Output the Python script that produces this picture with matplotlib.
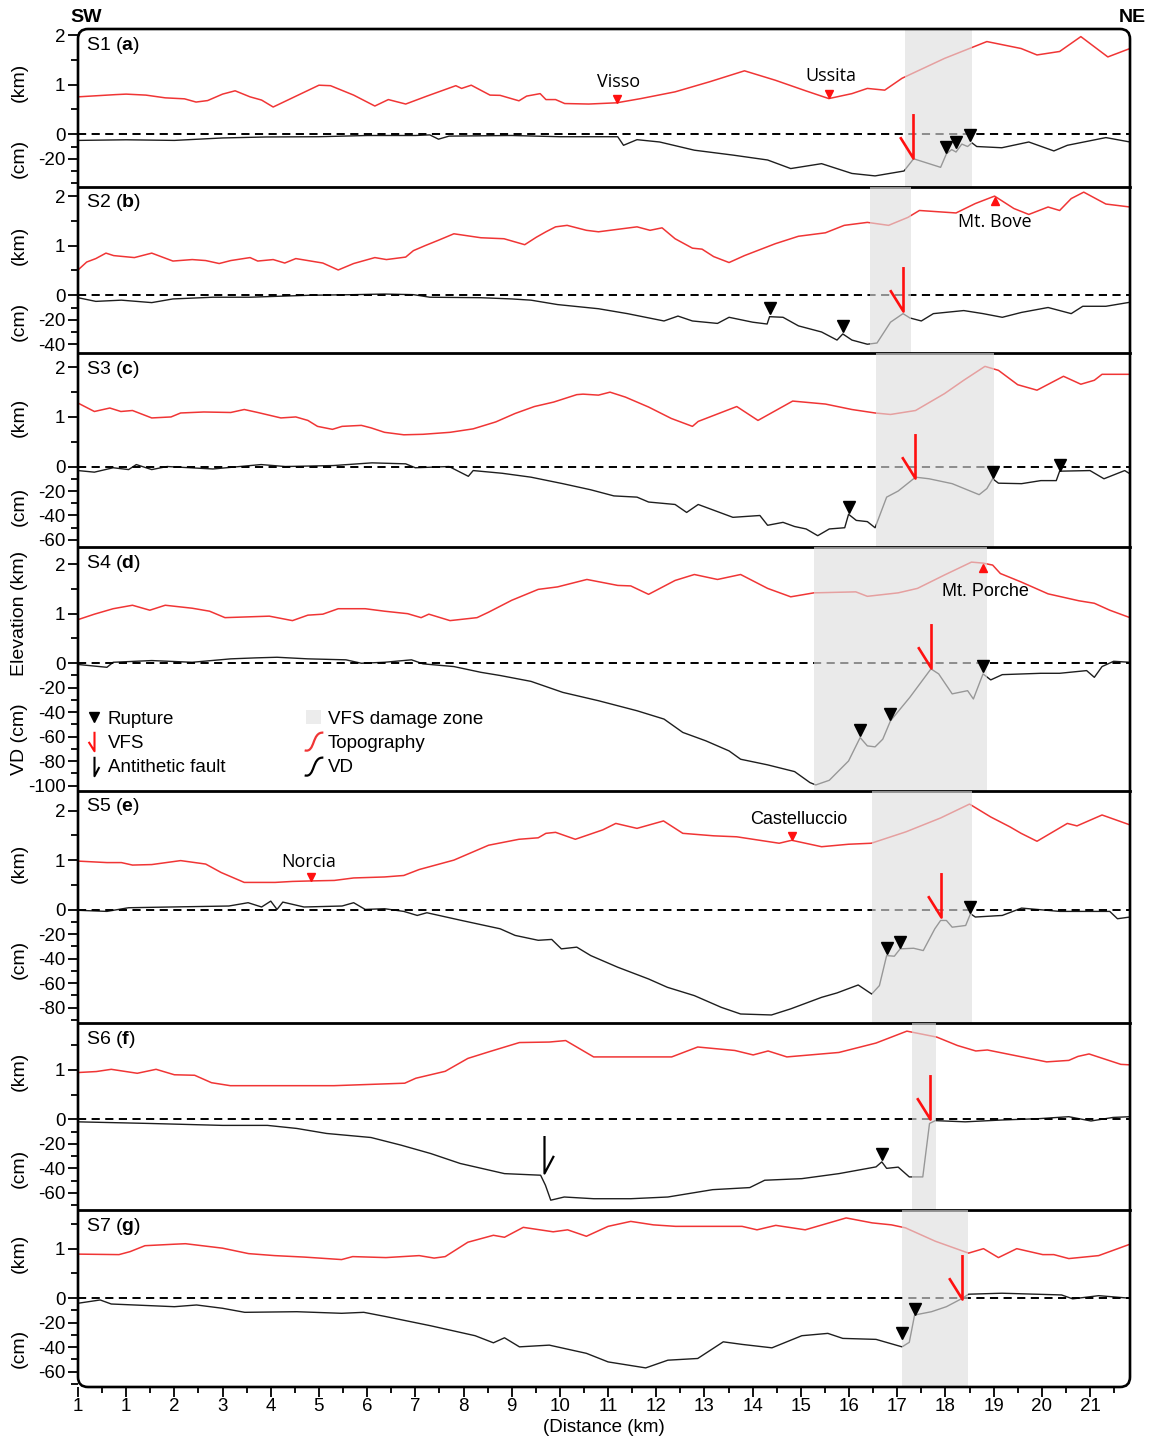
import numpy as np
import matplotlib.pyplot as plt
from matplotlib.path import Path
from matplotlib.patches import FancyBboxPatch, Patch
from matplotlib.lines import Line2D
from matplotlib.transforms import offset_copy, blended_transform_factory

plt.rcParams['font.family'] = ['Liberation Sans', 'DejaVu Sans']
plt.rcParams['mathtext.fontset'] = 'custom'
plt.rcParams['mathtext.rm'] = 'Liberation Sans'
plt.rcParams['mathtext.bf'] = 'Liberation Sans:bold'

# 1 km of topography is drawn as tall as 40.5 cm of vertical displacement
KM2CM = 40.5

dist_ticks = list(range(0, 22))
dist_labels = ['1'] + [str(i) for i in range(1, 22)]

# ---------------- S1 (a) ----------------
topo_x_a = [0.0, 0.78, 1.0, 1.41, 1.81, 2.21, 2.45, 2.69, 3.0, 3.26, 3.57, 3.81, 4.05, 5.0, 5.24, 5.72, 6.16, 6.44,
            6.8, 7.24, 7.84, 7.96, 8.16, 8.55, 8.76, 9.15, 9.31, 9.59, 9.71, 9.91, 10.1, 10.6, 11.18, 11.68, 12.39,
            13.11, 13.83, 14.47, 15.1, 15.58, 16.06, 16.38, 16.74, 17.1, 17.98, 18.86, 19.57, 19.9, 20.37, 20.81,
            21.37, 21.83]
topo_a = [0.755, 0.80, 0.81, 0.79, 0.735, 0.715, 0.65, 0.68, 0.81, 0.877, 0.755, 0.69, 0.55, 0.99, 0.98, 0.79, 0.57,
          0.70, 0.61, 0.77, 0.98, 0.925, 0.99, 0.79, 0.785, 0.675, 0.77, 0.82, 0.70, 0.70, 0.62, 0.61, 0.635, 0.72,
          0.856, 1.06, 1.28, 1.09, 0.877, 0.72, 0.82, 0.925, 0.89, 1.13, 1.53, 1.87, 1.73, 1.60, 1.67, 1.97, 1.56, 1.73]
vd_x_a = [0.0, 1.0, 2.0, 3.0, 3.9, 5.0, 6.0, 7.0, 7.3, 7.48, 7.7, 9.0, 10.0, 11.2, 11.32, 11.6, 12.07, 12.79, 13.59,
          14.31, 14.79, 15.43, 16.06, 16.54, 17.14, 17.34, 17.9, 18.02, 18.13, 18.22, 18.34, 18.46, 18.55, 18.65,
          19.17, 19.73, 20.25, 20.53, 21.33, 21.83]
vd_a = [-5, -4.5, -5, -3, -2.2, -2, -1, -1, -0.5, -4, -1.5, -1, -2, -2, -9, -4.4, -6.3, -13, -17, -21, -28, -24, -32,
        -34, -30, -20, -27, -16, -12.5, -14.5, -8, -10, -7, -10, -11, -6.3, -13.6, -9, -2.7, -6.3]
rup_x_a = [18.02, 18.22, 18.52]
rup_y_a = [-15, -10.5, -5]

# ---------------- S2 (b) ----------------
topo_x_b = [0.0, 0.18, 0.37, 0.58, 0.74, 1.17, 1.53, 1.97, 2.37, 2.65, 2.93, 3.17, 3.57, 3.73, 4.05, 4.29, 4.52, 5.08,
            5.4, 5.72, 6.16, 6.4, 6.8, 6.96, 7.2, 7.48, 7.8, 8.36, 8.84, 9.27, 9.51, 9.71, 9.91, 10.15, 10.55, 10.8,
            11.6, 11.87, 12.12, 12.39, 12.75, 12.95, 13.19, 13.51, 13.83, 14.47, 14.95, 15.51, 15.9, 16.38, 16.82,
            17.22, 17.46, 18.22, 18.62, 19.02, 19.42, 19.73, 20.13, 20.37, 20.61, 20.87, 21.33, 21.83]
topo_b = [0.51, 0.67, 0.74, 0.85, 0.80, 0.76, 0.85, 0.69, 0.72, 0.70, 0.64, 0.70, 0.76, 0.69, 0.72, 0.65, 0.74, 0.65,
          0.51, 0.64, 0.76, 0.72, 0.77, 0.90, 1.0, 1.11, 1.24, 1.16, 1.14, 1.02, 1.17, 1.28, 1.38, 1.41, 1.31, 1.28,
          1.38, 1.31, 1.36, 1.14, 0.95, 0.93, 0.78, 0.66, 0.80, 1.04, 1.19, 1.26, 1.41, 1.47, 1.41, 1.57, 1.71, 1.66,
          1.85, 2.0, 1.75, 1.63, 1.78, 1.71, 1.95, 2.08, 1.84, 1.78]
vd_x_b = [0.0, 0.37, 0.9, 1.53, 1.97, 2.8, 3.57, 4.8, 5.72, 6.36, 6.96, 7.3, 8.36, 9.0, 9.4, 9.95, 10.8, 11.4, 12.16,
          12.45, 12.75, 13.27, 13.51, 14.0, 14.3, 14.35, 14.63, 14.95, 15.43, 15.75, 15.87, 16.06, 16.38, 16.58,
          16.86, 17.12, 17.26, 17.5, 17.75, 18.38, 18.78, 19.18, 19.58, 20.13, 20.61, 20.85, 21.33, 21.83]
vd_b = [-2, -5, -4, -6, -3, -1.6, -1.6, 0, 0.5, 1, 0.5, -1.6, -2, -3, -4, -7.6, -11, -15, -21, -17, -21, -23, -18,
        -22, -23.5, -17.5, -18, -25, -30, -36.6, -31.6, -36.6, -40, -39, -22, -15, -18.5, -21, -15, -12.5, -15, -18,
        -14, -10, -15, -9, -9, -5.7]
rup_x_b = [14.35, 15.87]
rup_y_b = [-15, -30]

# ---------------- S3 (c) ----------------
topo_x_c = [0.0, 0.34, 0.66, 0.89, 1.13, 1.53, 1.93, 2.13, 2.61, 3.17, 3.45, 3.73, 4.21, 4.52, 4.77, 4.97, 5.28, 5.48,
            5.88, 6.08, 6.36, 6.76, 7.16, 7.72, 8.2, 8.67, 9.07, 9.47, 9.87, 10.35, 10.48, 10.8, 11.04, 11.36, 11.84,
            12.31, 12.75, 12.87, 13.67, 14.11, 14.83, 15.51, 16.06, 16.54, 16.86, 17.38, 17.98, 18.38, 18.82, 19.1,
            19.5, 19.9, 20.45, 20.81, 21.09, 21.25, 21.83]
topo_c = [1.28, 1.11, 1.18, 1.11, 1.13, 0.98, 1.0, 1.08, 1.1, 1.09, 1.15, 1.09, 0.98, 1.0, 0.93, 0.81, 0.75, 0.81,
          0.83, 0.78, 0.69, 0.64, 0.65, 0.69, 0.76, 0.90, 1.07, 1.21, 1.30, 1.45, 1.46, 1.44, 1.50, 1.40, 1.20, 0.97,
          0.81, 0.91, 1.21, 0.93, 1.32, 1.26, 1.15, 1.08, 1.05, 1.13, 1.47, 1.74, 2.02, 1.94, 1.65, 1.54, 1.82, 1.66,
          1.74, 1.86, 1.86]
vd_x_c = [0.0, 0.34, 0.73, 1.05, 1.21, 1.53, 1.85, 2.8, 3.8, 4.3, 5.3, 6.1, 6.8, 7.0, 7.7, 8.1, 8.2, 8.8, 9.4, 10.06,
          10.64, 11.12, 11.6, 11.84, 12.39, 12.63, 12.87, 13.59, 14.15, 14.31, 14.63, 14.87, 15.11, 15.35, 15.59,
          15.91, 15.99, 16.15, 16.38, 16.54, 16.78, 17.02, 17.38, 17.66, 18.14, 18.7, 18.86, 18.98, 19.1, 19.58,
          19.98, 20.3, 20.37, 21.0, 21.29, 21.72, 21.83]
vd_c = [-3.3, -4.6, -1, -2.5, 1.6, -2.5, 0, -2, 1.6, 0, 0.8, 3, 2.2, -1, 0, -8, -3.3, -5.5, -8.7, -14, -19, -24, -25,
        -29, -31, -37.5, -31, -41.5, -40, -48, -45.6, -49, -51, -56.5, -51, -50, -39, -44, -45, -50, -25, -20, -8.7,
        -10, -14, -23, -18, -10, -13.6, -14, -11.5, -11.5, -3.8, -3.3, -10, -3.3, -6]
rup_x_c = [15.99, 18.98, 20.37]
rup_y_c = [-38, -9, -3]

# ---------------- S4 (d) ----------------
topo_x_d = [0.0, 0.34, 0.73, 1.13, 1.49, 1.81, 2.37, 2.73, 3.05, 3.97, 4.45, 4.77, 5.08, 5.4, 5.96, 6.36, 6.84, 7.12,
            7.28, 7.72, 8.28, 8.52, 9.0, 9.55, 9.95, 10.56, 11.2, 11.47, 11.84, 12.39, 12.79, 13.27, 13.75, 14.31,
            14.79, 15.27, 16.14, 16.38, 17.02, 17.42, 17.98, 18.54, 18.78, 18.98, 19.14, 19.57, 20.13, 20.77, 21.09,
            21.41, 21.83]
topo_d = [0.88, 0.99, 1.10, 1.17, 1.07, 1.17, 1.11, 1.05, 0.92, 0.95, 0.86, 0.97, 0.99, 1.10, 1.10, 1.05, 1.0, 0.92,
          0.99, 0.86, 0.92, 1.03, 1.27, 1.49, 1.54, 1.69, 1.57, 1.56, 1.39, 1.67, 1.79, 1.69, 1.79, 1.51, 1.34, 1.42,
          1.44, 1.35, 1.42, 1.51, 1.78, 2.04, 2.02, 1.98, 1.81, 1.64, 1.40, 1.26, 1.21, 1.07, 0.92]
vd_x_d = [0.0, 0.6, 0.73, 1.53, 2.37, 3.17, 3.69, 4.13, 4.77, 5.56, 5.88, 6.36, 6.92, 7.16, 7.8, 8.36, 8.76, 9.4,
          10.06, 10.8, 11.6, 12.16, 12.55, 13.03, 13.51, 13.75, 14.31, 14.87, 15.19, 15.31, 15.59, 15.99, 16.23,
          16.38, 16.54, 16.7, 16.86, 17.26, 17.7, 17.86, 18.14, 18.46, 18.58, 18.78, 18.94, 19.18, 19.98, 20.37,
          20.93, 21.09, 21.25, 21.49, 21.83]
vd_d = [-1, -3.3, 0.8, 2.2, 0.8, 3.6, 4.4, 4.9, 3.6, 2.8, 0, 0.8, 2.8, -0.5, -2.7, -7.4, -10, -14.8, -23.8, -30.6,
        -38.8, -45.6, -56.5, -63.4, -71.6, -78.4, -83, -88.5, -97.5, -99.4, -95.6, -79.8, -60.7, -67.5, -68.3, -62,
        -47, -27.9, -4.6, -8.7, -25, -22.4, -29.2, -8.7, -13.6, -9.3, -8.2, -8.2, -6, -11.5, -2.7, 1.6, 0.8]
rup_x_d = [16.23, 16.86, 18.78]
rup_y_d = [-59, -46, -6.5]

# ---------------- S5 (e) ----------------
topo_x_e = [0.0, 0.6, 0.9, 1.13, 1.53, 2.13, 2.65, 2.97, 3.45, 4.09, 4.45, 4.83, 5.32, 5.72, 6.36, 6.76, 7.08, 7.8,
            8.52, 9.15, 9.55, 9.71, 9.91, 10.32, 10.89, 11.16, 11.6, 12.15, 12.55, 13.19, 13.67, 14.55, 14.81, 15.43,
            15.99, 16.46, 17.18, 17.9, 18.5, 18.94, 19.34, 19.57, 19.9, 20.53, 20.73, 21.25, 21.83]
topo_e = [0.98, 0.95, 0.95, 0.90, 0.91, 0.99, 0.92, 0.75, 0.55, 0.55, 0.57, 0.58, 0.59, 0.64, 0.66, 0.69, 0.81, 1.0,
          1.30, 1.42, 1.45, 1.54, 1.56, 1.42, 1.61, 1.74, 1.64, 1.79, 1.54, 1.49, 1.47, 1.34, 1.40, 1.27, 1.32, 1.34,
          1.57, 1.85, 2.13, 1.87, 1.67, 1.54, 1.38, 1.74, 1.69, 1.91, 1.71]
vd_x_e = [0.0, 0.6, 1.05, 1.93, 3.13, 3.53, 3.81, 4.0, 4.13, 4.25, 4.69, 5.48, 5.72, 5.96, 6.36, 6.76, 7.04, 7.24,
          7.96, 8.76, 9.07, 9.55, 9.83, 10.03, 10.35, 10.64, 11.2, 11.84, 12.23, 12.79, 13.35, 13.75, 14.39, 14.79,
          15.43, 15.75, 16.19, 16.47, 16.63, 16.78, 16.94, 17.06, 17.34, 17.54, 17.78, 17.9, 18.02, 18.14, 18.42,
          18.52, 18.62, 19.18, 19.58, 20.37, 21.41, 21.57, 21.83]
vd_e = [-0.5, -1.4, 1.6, 2.2, 3, 5.7, 2.2, 7, 0.2, 6.2, 2.2, 3, 5.7, 0.2, 0.8, -1.4, -4.7, -2.5, -8.8, -15.6, -21,
        -25, -24.3, -32, -30.6, -37.5, -47, -56.6, -63.4, -70.2, -79.8, -85.2, -86, -81, -71.6, -68, -61.5, -68.9,
        -62, -37.5, -38, -32, -31.5, -33.4, -15.6, -8.8, -8.8, -14.3, -12.9, -3.3, -6, -4.7, 1.3, -1.4, -1.4, -7.4, -6]
rup_x_e = [16.78, 17.06, 18.52]
rup_y_e = [-36, -31, -2.5]

# ---------------- S6 (f) ----------------
topo_x_f = [0.0, 0.38, 0.69, 1.23, 1.62, 2.0, 2.42, 2.77, 3.16, 4.54, 5.31, 6.78, 7.01, 7.62, 8.09, 8.55, 9.16, 9.78,
            10.12, 10.7, 12.32, 12.86, 13.63, 14.01, 14.32, 14.71, 15.79, 16.56, 17.2, 17.82, 18.25, 18.63, 18.87,
            20.1, 20.56, 20.75, 20.98, 21.64, 21.83]
topo_f = [0.945, 0.965, 1.01, 0.93, 1.01, 0.90, 0.89, 0.74, 0.68, 0.68, 0.68, 0.73, 0.83, 0.97, 1.23, 1.37, 1.55,
          1.56, 1.59, 1.26, 1.26, 1.46, 1.39, 1.30, 1.38, 1.26, 1.35, 1.54, 1.78, 1.66, 1.49, 1.38, 1.40, 1.16, 1.19,
          1.27, 1.32, 1.11, 1.10]
vd_x_f = [0.0, 1.46, 3.0, 3.93, 4.54, 5.16, 6.08, 6.7, 7.32, 7.93, 8.85, 9.6, 9.7, 9.81, 10.09, 10.7, 11.47, 12.24,
          13.17, 13.94, 14.25, 15.02, 15.79, 16.56, 16.68, 16.78, 17.02, 17.25, 17.53, 17.67, 17.79, 18.41, 19.17,
          19.94, 20.56, 21.02, 21.48, 21.83]
vd_f = [-2, -3.3, -4.9, -4.9, -7.4, -11.5, -14.8, -21, -27.9, -36, -44.3, -45.6, -53.8, -66, -63.4, -64.8, -64.8,
        -63.4, -57.4, -55.7, -49.7, -48.4, -44.3, -38.8, -34.7, -40, -39, -47, -47, -3.3, -1, -2, -0.5, 0.6, 2.2,
        -1.3, 1.6, 2.2]
rup_x_f = [16.68]
rup_y_f = [-33]

# ---------------- S7 (g) ----------------
topo_x_g = [0.0, 0.85, 1.08, 1.39, 2.0, 2.23, 3.0, 3.54, 4.08, 4.7, 5.47, 5.7, 6.39, 7.08, 7.39, 7.62, 8.09, 8.62,
            8.85, 9.24, 9.86, 10.16, 10.55, 11.0, 11.47, 11.94, 12.4, 13.78, 14.09, 14.48, 15.09, 15.94, 16.48, 16.88,
            17.17, 17.79, 18.48, 18.79, 19.1, 19.48, 20.02, 20.25, 20.56, 21.18, 21.83]
topo_g = [0.89, 0.88, 0.94, 1.06, 1.09, 1.10, 1.01, 0.90, 0.86, 0.83, 0.78, 0.84, 0.82, 0.86, 0.81, 0.84, 1.13, 1.27,
          1.23, 1.43, 1.34, 1.38, 1.25, 1.45, 1.55, 1.48, 1.45, 1.45, 1.38, 1.47, 1.38, 1.62, 1.52, 1.48, 1.42, 1.15,
          0.91, 1.0, 0.82, 1.0, 0.88, 0.88, 0.80, 0.86, 1.09]
vd_x_g = [0.0, 0.46, 0.69, 2.0, 2.46, 3.0, 3.46, 4.54, 5.47, 5.93, 6.39, 7.32, 8.24, 8.62, 8.85, 9.16, 9.78, 10.55,
          11.0, 11.78, 12.24, 12.86, 13.39, 13.78, 14.4, 15.02, 15.56, 15.87, 16.56, 17.1, 17.25, 17.36, 17.71, 18.02,
          18.33, 18.48, 19.17, 20.41, 20.64, 21.18, 21.83]
vd_g = [-4.1, -1.4, -4.7, -6.9, -5.5, -8.2, -11.5, -11, -12.3, -11.5, -15, -22.5, -30.6, -36.4, -32.3, -39.7, -38.3,
        -45, -52, -56.9, -50.6, -49.2, -35.6, -37.7, -40.5, -30.6, -28.7, -32.8, -33.6, -39.7, -36, -13.7, -11, -6.9,
        -0.5, 3.3, 4.1, 2.7, -0.5, 2.1, 0]
rup_x_g = [17.1, 17.36]
rup_y_g = [-33, -13]

# VFS damage zones (km) and main VFS rupture (km, cm)
zones = [(17.16, 18.55), (16.43, 17.28), (16.56, 19.0), (15.28, 18.86), (16.47, 18.56), (17.30, 17.80), (17.10, 18.47)]
vfs_x = [17.32, 17.12, 17.37, 17.70, 17.90, 17.68, 18.34]
vfs_y = [-19, -13, -9, -4, -6, 0, -1]
anti_x = [9.66]   # antithetic fault, S6
anti_y = [-44]

# y ticks: km part, cm part
km_ticks = [[0, 1, 2]] * 5 + [[0, 1]] * 2
cm_ticks = [[-20], [-20, -40], [-20, -40, -60], [-20, -40, -60, -80, -100], [-20, -40, -60, -80],
            [-20, -40, -60], [-20, -40, -60]]
ylims = [(-43, 86), (-47.5, 88.5), (-66.1, 92.4), (-104.3, 94.6), (-92.6, 97), (-74.3, 78.7), (-72.5, 71.8)]
km_label = ['(km)'] * 3 + ['Elevation (km)'] + ['(km)'] * 3
cm_label = ['(cm)'] * 3 + ['VD (cm)'] + ['(cm)'] * 3
km_label_y = [1.05, 1.0, 1.0, 1.0, 0.93, 0.97, 0.9]
cm_label_y = [-20, -21, -33, -62, -41, -40, -41]

# places: panel, name, x (km), elevation of marker tip (km), marker, label x, label y (km), font
places = [
    (0, 'Visso', 11.18, 0.635, 'v', 11.22, 1.05, 'Open Sans'),
    (0, 'Ussita', 15.58, 0.72, 'v', 15.62, 1.17, 'Open Sans'),
    (1, 'Mt. Bove', 19.02, 1.99, '^', 19.02, 1.47, 'Open Sans'),
    (3, 'Mt. Porche', 18.78, 2.01, '^', 18.82, 1.45, 'Liberation Sans'),
    (4, 'Norcia', 4.83, 0.58, 'v', 4.79, 0.96, 'Open Sans'),
    (4, 'Castelluccio', 14.81, 1.40, 'v', 14.96, 1.81, 'Liberation Sans'),
]

profiles = [
    dict(tx=topo_x_a, t=topo_a, vx=vd_x_a, v=vd_a, rx=rup_x_a, ry=rup_y_a),
    dict(tx=topo_x_b, t=topo_b, vx=vd_x_b, v=vd_b, rx=rup_x_b, ry=rup_y_b),
    dict(tx=topo_x_c, t=topo_c, vx=vd_x_c, v=vd_c, rx=rup_x_c, ry=rup_y_c),
    dict(tx=topo_x_d, t=topo_d, vx=vd_x_d, v=vd_d, rx=rup_x_d, ry=rup_y_d),
    dict(tx=topo_x_e, t=topo_e, vx=vd_x_e, v=vd_e, rx=rup_x_e, ry=rup_y_e),
    dict(tx=topo_x_f, t=topo_f, vx=vd_x_f, v=vd_f, rx=rup_x_f, ry=rup_y_f),
    dict(tx=topo_x_g, t=topo_g, vx=vd_x_g, v=vd_g, rx=rup_x_g, ry=rup_y_g),
]
letters = 'abcdefg'

RED_T = '#f03535'
RED_A = '#ff1010'
FS = 13.5

# half-arrow markers (tip at the origin)
vfs_mark = Path([(-0.3, 0.48), (0, 0), (0, 1)], [Path.MOVETO, Path.LINETO, Path.LINETO])
anti_mark = Path([(0.25, 0.47), (0, 0), (0, 1)], [Path.MOVETO, Path.LINETO, Path.LINETO])
# centred versions for the legend
vfs_leg = Path([(-0.3, -0.02), (0, -0.5), (0, 0.5)], [Path.MOVETO, Path.LINETO, Path.LINETO])
anti_leg = Path([(0.25, -0.03), (0, -0.5), (0, 0.5)], [Path.MOVETO, Path.LINETO, Path.LINETO])
squiggle = Path([(-0.5, -0.45), (0.05, -0.6), (-0.15, 0.5), (0.45, 0.45)],
                [Path.MOVETO, Path.CURVE4, Path.CURVE4, Path.CURVE4])

W, H = 1163, 1441
fig = plt.figure(figsize=(W / 100, H / 100), dpi=100)
gs = fig.add_gridspec(7, 1, left=78 / W, right=1130 / W, top=1 - 29 / H, bottom=1 - 1387 / H, hspace=0,
                      height_ratios=[hi - lo for lo, hi in ylims])

axes = []
for i, p in enumerate(profiles):
    ax = fig.add_subplot(gs[i])
    ax.patch.set_visible(False)
    axes.append(ax)
    ax.plot(p['tx'], np.array(p['t']) * KM2CM, color=RED_T, lw=1.1, zorder=2)
    ax.plot(p['vx'], p['v'], color='#1e1e1e', lw=1.0, zorder=2)
    ax.axhline(0, color='k', lw=1.4, ls=(0, (4.2, 2.8)), zorder=2)
    ax.axvspan(zones[i][0], zones[i][1], color='#dfdfdf', alpha=0.63, lw=0, zorder=3)

    up = offset_copy(ax.transData, fig=fig, y=4, units='points')
    ax.plot(p['rx'], p['ry'], ls='none', marker='v', color='k', ms=8, transform=up, zorder=5)
    ax.plot([vfs_x[i]], [vfs_y[i]], ls='none', marker=vfs_mark, ms=64, mfc='none', mec=RED_A, mew=1.9, zorder=5)
    if i == 5:
        ax.plot(anti_x, anti_y, ls='none', marker=anti_mark, ms=54, mfc='none', mec='k', mew=1.6, zorder=5)

    # y ticks
    lo, hi = ylims[i]
    major = [k * KM2CM for k in km_ticks[i]] + cm_ticks[i]
    labels = [str(k) for k in km_ticks[i]] + [str(c) for c in cm_ticks[i]]
    minor = [h * KM2CM for h in (0.5, 1.5) if h * KM2CM < hi]
    minor += [c for c in range(-10, int(lo) - 1, -10) if c not in cm_ticks[i] and c > lo]
    ax.set_yticks(major, labels)
    ax.set_yticks(minor, minor=True)
    ax.tick_params(axis='y', which='major', direction='out', length=7, width=1.3, labelsize=FS, pad=2)
    ax.tick_params(axis='y', which='minor', direction='out', length=5, width=1.3)

    ax.set_xticks(dist_ticks, dist_labels)
    ax.set_xticks(np.arange(0.5, 21.6, 1.0), minor=True)
    if i < 6:
        ax.tick_params(axis='x', which='both', bottom=False, labelbottom=False)
    else:
        ax.tick_params(axis='x', which='major', direction='out', length=7, width=1.3, labelsize=FS, pad=1)
        ax.tick_params(axis='x', which='minor', direction='out', length=4, width=1.3)
        ax.set_xlabel('(Distance (km)', fontsize=FS, labelpad=3)

    for s in ('top', 'left', 'right'):
        ax.spines[s].set_visible(False)
    if i < 6:
        ax.spines['bottom'].set_linewidth(2.0)
        ax.spines['bottom'].set_zorder(6)
    else:
        ax.spines['bottom'].set_visible(False)

    lt = blended_transform_factory(ax.transAxes, ax.transData)
    ax.text(-0.056, km_label_y[i] * KM2CM, km_label[i], transform=lt, rotation=90, ha='center', va='center',
            fontsize=14)
    ax.text(-0.056, cm_label_y[i], cm_label[i], transform=lt, rotation=90, ha='center', va='center', fontsize=14)

    ax.annotate('S%d ($\\mathbf{%s}$)' % (i + 1, letters[i]), xy=(0, 1), xycoords='axes fraction',
                xytext=(5.5, -4), textcoords='offset points', ha='left', va='top', fontsize=14)

    ax.set_xlim(0, 21.83)
    ax.set_ylim(lo, hi)

# place names on the topography
for pi, name, px, pe, mk, lx, ly, fam in places:
    ax = axes[pi]
    shift = 3 if mk == 'v' else -3
    tr = offset_copy(ax.transData, fig=fig, y=shift, units='points')
    ax.plot([px], [pe * KM2CM], ls='none', marker=mk, color=RED_A, ms=6, transform=tr, zorder=5)
    ax.text(lx, ly * KM2CM, name, ha='center', va='center', fontsize=13, family=[fam, 'DejaVu Sans'], zorder=6)

# legend in S4
handles = [
    Line2D([], [], ls='none', marker='v', color='k', ms=7),
    Line2D([], [], ls='none', marker=vfs_leg, ms=14, mfc='none', mec=RED_A, mew=1.5),
    Line2D([], [], ls='none', marker=anti_leg, ms=14, mfc='none', mec='k', mew=1.5),
    Patch(facecolor='#ececec', edgecolor='none'),
    Line2D([], [], ls='none', marker=squiggle, ms=17, mfc='none', mec=RED_T, mew=1.6),
    Line2D([], [], ls='none', marker=squiggle, ms=17, mfc='none', mec='k', mew=1.6),
]
names = ['Rupture', 'VFS', 'Antithetic fault', 'VFS damage zone', 'Topography', 'VD']
axes[3].legend(handles, names, ncol=2, loc='upper left', bbox_to_anchor=(0.008, 0.333), frameon=False,
               fontsize=FS, handlelength=0.8, handleheight=0.8, handletextpad=0.35, columnspacing=4.3,
               labelspacing=0.36, borderpad=0, borderaxespad=0)

# rounded outer frame
frame = FancyBboxPatch((0.78, H / 100 - 13.87), 10.52, 13.58, boxstyle='round,pad=0,rounding_size=0.1',
                       transform=fig.dpi_scale_trans, fill=False, edgecolor='k', lw=1.9, zorder=10)
fig.add_artist(frame)

fig.text(70 / W, 1 - 18 / H, 'SW', fontsize=14, fontweight='bold', ha='left', va='center')
fig.text(1146 / W, 1 - 18 / H, 'NE', fontsize=14, fontweight='bold', ha='right', va='center')

fig.savefig('out.png', dpi=100)
